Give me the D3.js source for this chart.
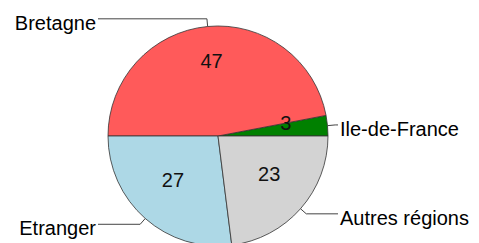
<!DOCTYPE html>
<html>
<head>
<meta charset="utf-8">
<script src="https://cdn.jsdelivr.net/npm/d3@7"></script>
<style>
  body { margin: 0; background: #fff; }
  text { font-family: "Liberation Sans", Arial, sans-serif; }
</style>
</head>
<body>
<div id="chart"></div>
<script>
var regions = ["Ile-de-France", "Bretagne", "Etranger", "Autres régions"];
var counts = [3, 47, 27, 23];
var colors = ["#008000", "#ff5a5a", "#add8e6", "#d3d3d3"];

var width = 479, height = 243;
var cx = 218, cy = 136, radius = 110;

var svg = d3.select("#chart").append("svg")
  .attr("width", width)
  .attr("height", height);

var data = regions.map(function(r, i) { return { label: r, value: counts[i], color: colors[i] }; });

// counter-clockwise from 3 o'clock, like R's pie()
var pie = d3.pie()
  .value(function(d) { return d.value; })
  .sort(null)
  .startAngle(Math.PI / 2)
  .endAngle(Math.PI / 2 - 2 * Math.PI);

var arcs = pie(data);
var arc = d3.arc().innerRadius(0).outerRadius(radius);

var g = svg.append("g").attr("transform", "translate(" + cx + "," + cy + ")");

g.selectAll("path.slice")
  .data(arcs)
  .enter()
  .append("path")
  .attr("class", "slice")
  .attr("d", arc)
  .style("fill", function(d) { return d.data.color; })
  .style("stroke", "#333")
  .style("stroke-width", 0.8);

function mid(d) { return (d.startAngle + d.endAngle) / 2; }
function px(a, r) { return Math.sin(a) * r; }
function py(a, r) { return -Math.cos(a) * r; }

// values inside slices
g.selectAll("text.value")
  .data(arcs)
  .enter()
  .append("text")
  .attr("class", "value")
  .attr("x", function(d) { return px(mid(d), radius * 0.62); })
  .attr("y", function(d) { return py(mid(d), radius * 0.62) - 7; })
  .attr("dy", "0.36em")
  .attr("text-anchor", "middle")
  .attr("font-size", 20)
  .style("fill", "#111")
  .text(function(d) { return d.data.value; });

// leader lines
var elbow = radius * 1.07;
var lineEnd = radius + 10;

g.selectAll("polyline.leader")
  .data(arcs)
  .enter()
  .append("polyline")
  .attr("class", "leader")
  .attr("points", function(d) {
    var a = mid(d);
    var side = px(a, 1) > 0 ? 1 : -1;
    var ey = py(a, elbow);
    return [[px(a, radius), py(a, radius)], [px(a, elbow), ey], [side * lineEnd, ey]]
      .map(function(p) { return p.join(","); }).join(" ");
  })
  .style("fill", "none")
  .style("stroke", "#444")
  .style("stroke-width", 1);

g.selectAll("text.name")
  .data(arcs)
  .enter()
  .append("text")
  .attr("class", "name")
  .attr("x", function(d) { return (px(mid(d), 1) > 0 ? 1 : -1) * (lineEnd + 2); })
  .attr("y", function(d) { return py(mid(d), elbow) + 4; })
  .attr("dy", "0.36em")
  .attr("text-anchor", function(d) { return px(mid(d), 1) > 0 ? "start" : "end"; })
  .attr("font-size", 20)
  .style("fill", "#000")
  .text(function(d) { return d.data.label; });
</script>
</body>
</html>
